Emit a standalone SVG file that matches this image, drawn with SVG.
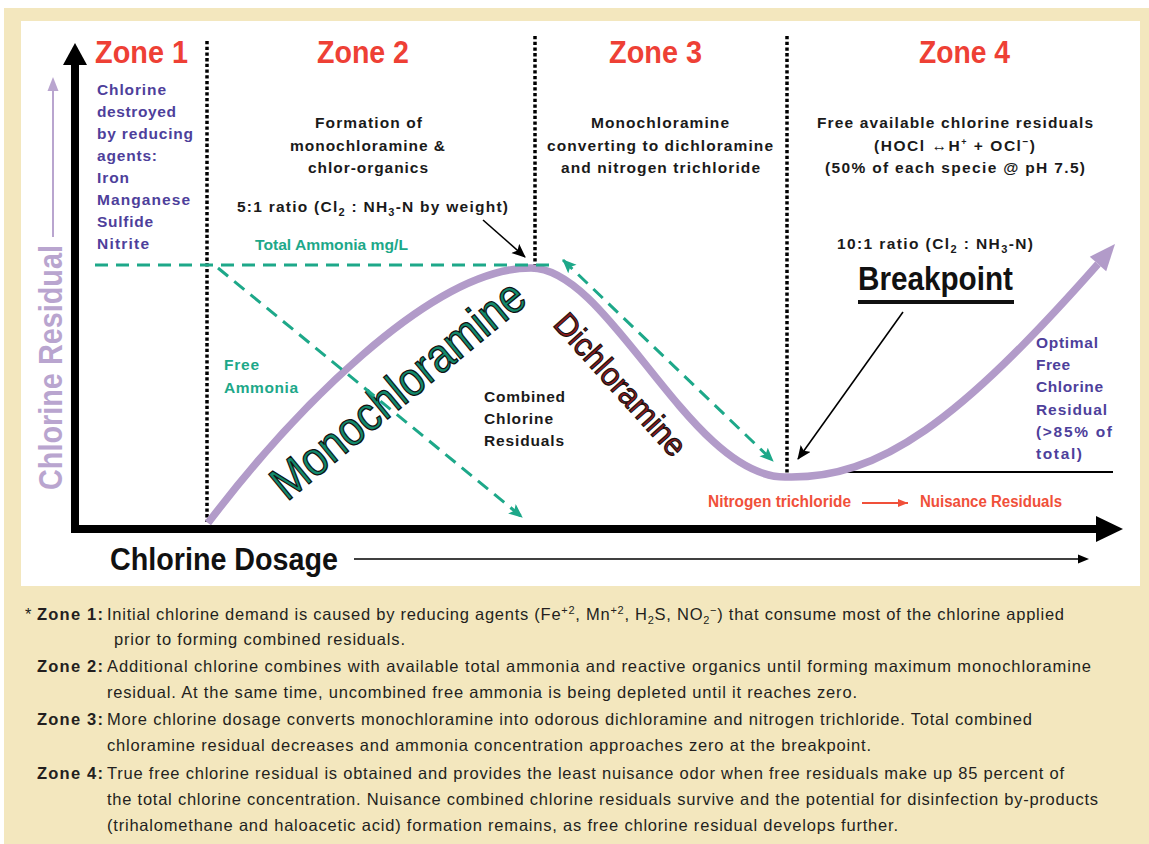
<svg xmlns="http://www.w3.org/2000/svg" width="1149" height="844" viewBox="0 0 1149 844">
<style>
text{font-family:"Liberation Sans",Arial,sans-serif}
.hdr{font-weight:bold;font-size:32px;fill:#EE4035}
.z1{font-weight:bold;font-size:15.5px;fill:#4E3F9B}
.blk{font-weight:bold;font-size:15.5px;fill:#1A1A1A}
.grn{font-weight:bold;font-size:15.5px;fill:#1DA889}
.red{font-weight:bold;font-size:16px;fill:#F0503A}
.ft{font-size:16.5px;fill:#231F20}
.ftb{font-size:16.5px;font-weight:bold;fill:#231F20}
.dot{stroke:#000;stroke-width:3.5;stroke-dasharray:3.3 2.4;fill:none}
.dash{stroke:#1DA889;stroke-width:3;stroke-dasharray:13 8;fill:none}
.thin{stroke:#000;stroke-width:1.6;fill:none}
</style>
<defs>
<marker id="gh" markerUnits="userSpaceOnUse" markerWidth="16" markerHeight="14" refX="13" refY="6" orient="auto-start-reverse">
<path d="M0,0 L14,6 L0,12 L3,6 z" fill="#1DA889"/>
</marker>
<marker id="bh" markerUnits="userSpaceOnUse" markerWidth="16" markerHeight="14" refX="13" refY="6" orient="auto">
<path d="M0,0 L14,6 L0,12 L3,6 z" fill="#000"/>
</marker>
<marker id="rh" markerUnits="userSpaceOnUse" markerWidth="12" markerHeight="10" refX="10" refY="4" orient="auto">
<path d="M0,0 L10,4 L0,8 z" fill="#F0503A"/>
</marker>
</defs>

<rect x="0" y="0" width="1149" height="844" fill="#FFFFFF"/>
<rect x="4" y="8" width="1145" height="836" fill="#F3E7BE"/>
<rect x="21" y="21" width="1119" height="565" fill="#FFFFFF"/>

<g id="axes">
<rect x="71" y="60" width="8" height="473" fill="#000"/>
<polygon points="75,43 63,65 87,65" fill="#000"/>
<rect x="71" y="525" width="1030" height="8" fill="#000"/>
<polygon points="1123,529 1096,516 1096,542" fill="#000"/>
<line x1="53" y1="237" x2="53" y2="88" stroke="#B9A5CF" stroke-width="2"/>
<polygon points="53,77 47.5,91 58.5,91" fill="#B9A5CF"/>
<text transform="translate(62,490) rotate(-90)" x="0" y="0" font-size="33" font-weight="bold" fill="#B9A5CF" textLength="245" lengthAdjust="spacingAndGlyphs">Chlorine Residual</text>
<text x="110" y="570" font-size="31" font-weight="bold" fill="#111" textLength="228" lengthAdjust="spacingAndGlyphs">Chlorine Dosage</text>
<line x1="354" y1="559" x2="1080" y2="559" class="thin"/>
<polygon points="1089,559 1078,554.5 1078,563.5" fill="#000"/>
</g>

<g id="zone-lines">
<line x1="207" y1="41" x2="207" y2="522" class="dot"/>
<line x1="535" y1="36" x2="535" y2="265" class="dot"/>
<line x1="787" y1="36" x2="787" y2="474" class="dot"/>
</g>

<g id="zone1">
<text class="hdr" x="95" y="63" textLength="93" lengthAdjust="spacingAndGlyphs">Zone 1</text>
<text class="z1" x="97" y="95" textLength="69">Chlorine</text>
<text class="z1" x="97" y="117" textLength="79">destroyed</text>
<text class="z1" x="97" y="139" textLength="96">by reducing</text>
<text class="z1" x="97" y="161" textLength="60">agents:</text>
<text class="z1" x="97" y="183" textLength="32">Iron</text>
<text class="z1" x="97" y="205" textLength="93">Manganese</text>
<text class="z1" x="97" y="227" textLength="56">Sulfide</text>
<text class="z1" x="97" y="249" textLength="52">Nitrite</text>
</g>

<g id="zone2">
<text class="hdr" x="317" y="63" textLength="92" lengthAdjust="spacingAndGlyphs">Zone 2</text>
<text class="blk" x="315" y="128" textLength="107">Formation of</text>
<text class="blk" x="290" y="151" textLength="155">monochloramine &amp;</text>
<text class="blk" x="308" y="173" textLength="120">chlor-organics</text>
<text class="blk" x="237" y="212" textLength="271">5:1 ratio (Cl<tspan font-size="11" dy="4">2</tspan><tspan dy="-4"> : NH</tspan><tspan font-size="11" dy="4">3</tspan><tspan dy="-4">-N by weight)</tspan></text>
<text class="grn" x="255" y="250" textLength="153" lengthAdjust="spacingAndGlyphs">Total Ammonia mg/L</text>
<text class="grn" x="224" y="370" textLength="35">Free</text>
<text class="grn" x="224" y="393" textLength="74">Ammonia</text>
<text class="blk" x="484" y="402" textLength="81">Combined</text>
<text class="blk" x="484" y="424" textLength="69">Chlorine</text>
<text class="blk" x="484" y="446" textLength="80">Residuals</text>
</g>

<g id="zone3">
<text class="hdr" x="609" y="63" textLength="93" lengthAdjust="spacingAndGlyphs">Zone 3</text>
<text class="blk" x="591" y="128" textLength="138">Monochloramine</text>
<text class="blk" x="547" y="151" textLength="226">converting to dichloramine</text>
<text class="blk" x="561" y="173" textLength="199">and nitrogen trichloride</text>
</g>

<g id="zone4">
<text class="hdr" x="919" y="63" textLength="91" lengthAdjust="spacingAndGlyphs">Zone 4</text>
<text class="blk" x="817" y="128" textLength="276">Free available chlorine residuals</text>
<text class="blk" x="874" y="151" textLength="161">(HOCl ↔H<tspan font-size="9" dy="-6">+</tspan><tspan dy="6"> + OCl</tspan><tspan font-size="10" dy="-6">−</tspan><tspan dy="6">)</tspan></text>
<text class="blk" x="825" y="173" textLength="260">(50% of each specie @ pH 7.5)</text>
<text class="blk" x="837" y="249" textLength="196">10:1 ratio (Cl<tspan font-size="11" dy="4">2</tspan><tspan dy="-4"> : NH</tspan><tspan font-size="11" dy="4">3</tspan><tspan dy="-4">-N)</tspan></text>
<text x="858" y="290" font-size="33" font-weight="bold" fill="#111" textLength="155" lengthAdjust="spacingAndGlyphs">Breakpoint</text>
<rect x="858" y="300" width="156" height="4" fill="#111"/>
<text class="z1" x="1036" y="348" textLength="62">Optimal</text>
<text class="z1" x="1036" y="370" textLength="34">Free</text>
<text class="z1" x="1036" y="392" textLength="67">Chlorine</text>
<text class="z1" x="1036" y="415" textLength="71">Residual</text>
<text class="z1" x="1036" y="437" textLength="76">(&gt;85% of</text>
<text class="z1" x="1036" y="459" textLength="46">total)</text>
<line x1="832" y1="472" x2="1113" y2="472" stroke="#000" stroke-width="2.2"/>
<text class="red" x="708" y="507" textLength="143" lengthAdjust="spacingAndGlyphs">Nitrogen trichloride</text>
<text class="red" x="920" y="507" textLength="142" lengthAdjust="spacingAndGlyphs">Nuisance Residuals</text>
</g>

<g id="curve">
<path d="M208,523 C290,415 430,268 531,268 C610,268 690,477 785,477 C880,480 960,420 1098,264" fill="none" stroke="#B29BC9" stroke-width="7.5"/>
<polygon points="1115,244 1106.2,271.3 1089.8,256.7" fill="#B29BC9"/>
<text transform="translate(287,502) rotate(-39.5)" x="0" y="0" font-size="48" fill="#12896B" stroke="#111" stroke-width="1.3" textLength="314" lengthAdjust="spacingAndGlyphs">Monochloramine</text>
<text transform="translate(552,325) rotate(48)" x="0" y="0" font-size="32" fill="#8E1B1E" stroke="#111" stroke-width="1.1" textLength="180" lengthAdjust="spacingAndGlyphs">Dichloramine</text>
</g>

<g id="connectors">
<line x1="95" y1="265" x2="555" y2="265" class="dash"/>
<line x1="218" y1="268" x2="522" y2="517" class="dash" marker-end="url(#gh)"/>
<line x1="563" y1="260" x2="773" y2="461" class="dash" marker-start="url(#gh)" marker-end="url(#gh)"/>
<line x1="483" y1="220" x2="525" y2="257" class="thin" marker-end="url(#bh)"/>
<line x1="903" y1="312" x2="798" y2="459" class="thin" marker-end="url(#bh)"/>
<line x1="862" y1="503" x2="908" y2="503" stroke="#F0503A" stroke-width="1.8" marker-end="url(#rh)"/>
</g>

<g id="notes">
<text class="ft" x="25" y="620">*</text>
<text class="ftb" x="37" y="620" textLength="66">Zone 1:</text>
<text class="ft" x="107" y="620" textLength="957">Initial chlorine demand is caused by reducing agents (Fe<tspan font-size="11" dy="-6">+2</tspan><tspan dy="6">, Mn</tspan><tspan font-size="11" dy="-6">+2</tspan><tspan dy="6">, H</tspan><tspan font-size="11" dy="4">2</tspan><tspan dy="-4">S, NO</tspan><tspan font-size="11" dy="4">2</tspan><tspan font-size="11" dy="-10">−</tspan><tspan dy="6">) that consume most of the chlorine applied</tspan></text>
<text class="ft" x="114" y="645" textLength="291">prior to forming combined residuals.</text>
<text class="ftb" x="37" y="672" textLength="66">Zone 2:</text>
<text class="ft" x="107" y="672" textLength="984">Additional chlorine combines with available total ammonia and reactive organics until forming maximum monochloramine</text>
<text class="ft" x="107" y="698" textLength="750">residual. At the same time, uncombined free ammonia is being depleted until it reaches zero.</text>
<text class="ftb" x="37" y="725" textLength="66">Zone 3:</text>
<text class="ft" x="107" y="725" textLength="925">More chlorine dosage converts monochloramine into odorous dichloramine and nitrogen trichloride. Total combined</text>
<text class="ft" x="107" y="751" textLength="764">chloramine residual decreases and ammonia concentration approaches zero at the breakpoint.</text>
<text class="ftb" x="37" y="779" textLength="66">Zone 4:</text>
<text class="ft" x="107" y="779" textLength="957">True free chlorine residual is obtained and provides the least nuisance odor when free residuals make up 85 percent of</text>
<text class="ft" x="107" y="805" textLength="991">the total chlorine concentration. Nuisance combined chlorine residuals survive and the potential for disinfection by-products</text>
<text class="ft" x="107" y="831" textLength="791">(trihalomethane and haloacetic acid) formation remains, as free chlorine residual develops further.</text>
</g>
</svg>
